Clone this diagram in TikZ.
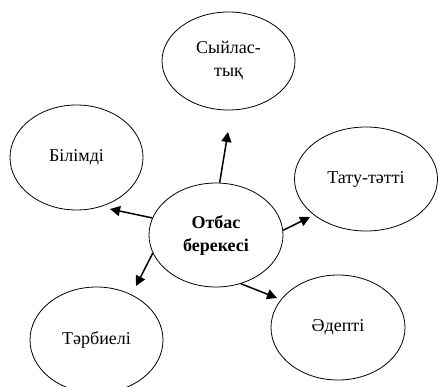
\documentclass[tikz,border=0pt]{standalone}
\usepackage{fontspec}
\setmainfont{Liberation Serif}
\usetikzlibrary{shapes.geometric,arrows.meta}

\begin{document}
\begin{tikzpicture}[x=1pt, y=-1pt, font=\fontsize{18}{23}\selectfont,
	main/.style = {draw, ellipse, line width=0.8pt, inner sep=0pt, align=center},
	arr/.style = {line width=1.5pt, -{Triangle[length=10pt,width=10pt]}}]
	\useasboundingbox (0,0) rectangle (438,387);
	\node[main, minimum width=134pt, minimum height=104pt] (1) at (216,235) {\textbf{Отбас}\\\textbf{берекесі}};
	\node[main, minimum width=133pt, minimum height=98pt] (2) at (228.5,61) {Сыйлас-\\тық};
	\node[main, minimum width=133pt, minimum height=105pt] (3) at (76.5,157.5) {Білімді};
	\node[main, minimum width=143pt, minimum height=104pt] (4) at (366,179) {Тату-тәтті};
	\node[main, minimum width=133pt, minimum height=106pt] (5) at (96.5,340) {Тәрбиелі};
	\node[main, minimum width=134pt, minimum height=105pt] (6) at (338,327.5) {Әдепті};
	\coordinate (a2) at (228,132);
	\coordinate (a3) at (110,209);
	\coordinate (a4) at (310,217);
	\coordinate (a5) at (136,286);
	\coordinate (a6) at (277,298);
	\draw[arr] (1.86) -- (a2);
	\draw[arr] (1.165) -- (a3);
	\draw[arr] (1.4) -- (a4);
	\draw[arr] (1.196) -- (a5);
	\draw[arr] (1.-63) -- (a6);
\end{tikzpicture}
\end{document}
